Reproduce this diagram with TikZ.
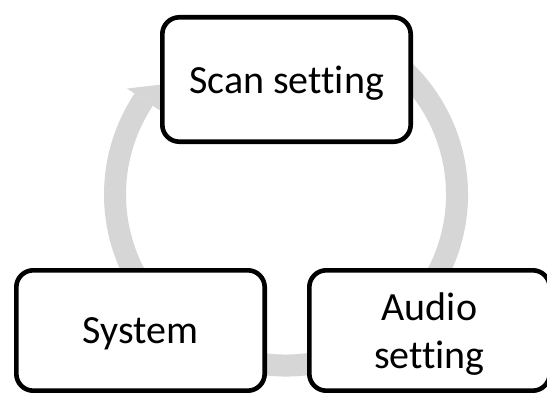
\documentclass[tikz,border=0pt]{standalone}
\usepackage{fontspec}
\setmainfont[Ligatures={NoCommon}]{Carlito}
\begin{document}
\begin{tikzpicture}[x=1pt,y=1pt,
  ringcol/.style={fill={rgb,255:red,214;green,214;blue,214}},
  ring/.style={draw={rgb,255:red,214;green,214;blue,214},line width=22pt},
  box/.style={draw=black,fill=white,line width=4.6pt,rounded corners=17pt,
    font=\fontsize{40}{48}\selectfont,align=center,text depth=0pt,inner sep=0pt}]
\useasboundingbox (0,0) rectangle (547,392);
\fill[white] (0,0) rectangle (547,392);
\coordinate (c) at (286,197.5);
\draw[ring] ([shift={(65:171pt)}]c) arc[start angle=65,end angle=-213.7,radius=171pt];
\coordinate (tip) at (166,308);
\fill[ringcol] ([shift={(146.3:191pt)}]c) -- (tip) -- ([shift={(146.3:151pt)}]c) -- cycle;
\node[box,minimum width=248.4pt,minimum height=124.4pt] (scan) at (286.5,312.5) {Scan setting};
\node[box,minimum width=248.4pt,minimum height=120.4pt] (system) at (140.5,61.5) {System};
\node[box,minimum width=240.4pt,minimum height=120.4pt] (audio) at (429.5,61.5) {Audio\\setting};
\end{tikzpicture}
\end{document}
